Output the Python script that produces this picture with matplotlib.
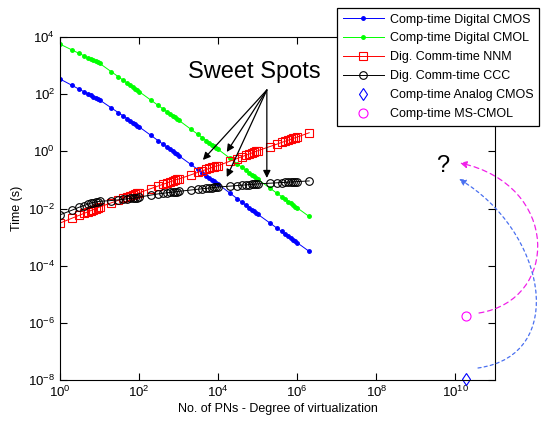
import matplotlib
matplotlib.use("Agg")
import matplotlib.pyplot as plt
from matplotlib.path import Path
from matplotlib.patches import FancyArrowPatch

plt.rcParams["font.family"] = ["Liberation Sans", "DejaVu Sans"]
plt.rcParams["mathtext.fontset"] = "custom"
plt.rcParams["mathtext.rm"] = "Liberation Sans"
plt.rcParams["mathtext.default"] = "regular"

# number of PNs (x) - 1..9 per decade up to 1e6, then 2e6
pns = [1, 2, 3, 4, 5, 6, 7, 8, 9,
       10, 20, 30, 40, 50, 60, 70, 80, 90,
       100, 200, 300, 400, 500, 600, 700, 800, 900,
       1e3, 2e3, 3e3, 4e3, 5e3, 6e3, 7e3, 8e3, 9e3,
       1e4, 2e4, 3e4, 4e4, 5e4, 6e4, 7e4, 8e4, 9e4,
       1e5, 2e5, 3e5, 4e5, 5e5, 6e5, 7e5, 8e5, 9e5,
       1e6, 2e6]

cmos = [339, 204, 151, 123, 105, 91, 81, 74, 68,
        63, 32.9, 22.5, 17.1, 13.9, 11.7, 10.1, 8.9, 8.0,
        7.2, 3.6, 2.39, 1.79, 1.43, 1.19, 1.02, 0.89, 0.79,
        0.71, 0.354, 0.236, 0.177, 0.142, 0.118, 0.101, 0.0885, 0.0787,
        0.0708, 0.0342, 0.0223, 0.0165, 0.0131, 0.0108, 0.00918, 0.00798, 0.00705,
        0.00631, 0.00316, 0.0021, 0.00158, 0.00126, 0.00105, 0.000902, 0.000789, 0.000702,
        0.000631, 0.000316]

cmol = [5623, 3532, 2692, 2223, 1914, 1694, 1528, 1396, 1291,
        1202, 605, 406, 305, 244, 204, 175, 153, 137,
        123, 61.5, 41, 30.8, 24.6, 20.5, 17.6, 15.4, 13.7,
        12.3, 6.07, 4.01, 2.99, 2.38, 1.98, 1.69, 1.48, 1.31,
        1.17, 0.568, 0.371, 0.274, 0.217, 0.179, 0.152, 0.132, 0.117,
        0.105, 0.0524, 0.0349, 0.0262, 0.0209, 0.0175, 0.0150, 0.0131, 0.0116,
        0.0105, 0.00525]

nnm = [0.00309, 0.00456, 0.00571, 0.00671, 0.0076, 0.00843, 0.00918, 0.0099, 0.01057,
       0.0112, 0.0159, 0.0194, 0.0224, 0.0251, 0.0275, 0.0297, 0.0318, 0.0337,
       0.0355, 0.0498, 0.0608, 0.070, 0.0782, 0.0853, 0.092, 0.0982, 0.104,
       0.107, 0.149, 0.182, 0.209, 0.232, 0.253, 0.273, 0.29, 0.308,
       0.316, 0.454, 0.56, 0.65, 0.73, 0.80, 0.87, 0.933, 0.99,
       1.05, 1.46, 1.77, 2.04, 2.27, 2.47, 2.67, 2.84, 3.01,
       3.16, 4.47]

ccc = [0.0060, 0.0087, 0.011, 0.0126, 0.0141, 0.0155, 0.0162, 0.017, 0.0174,
       0.0178, 0.019, 0.020, 0.0209, 0.0219, 0.0224, 0.0229, 0.0234, 0.024,
       0.0251, 0.0295, 0.0324, 0.0339, 0.0355, 0.0363, 0.0372, 0.038, 0.0389,
       0.0398, 0.0442, 0.047, 0.049, 0.0507, 0.0521, 0.0533, 0.0544, 0.0553,
       0.0562, 0.0607, 0.0635, 0.0655, 0.0671, 0.0685, 0.0697, 0.0706, 0.0716,
       0.0724, 0.0766, 0.0791, 0.0809, 0.0824, 0.0836, 0.0847, 0.0855, 0.0863,
       0.0871, 0.0923]

analog_x = [1.9e10]
analog_y = [1.05e-8]
mscmol_x = [1.9e10]
mscmol_y = [1.7e-6]

# sweet spot annotation: arrow origin and the four crossings it points at
sweet_origin = (1.7e5, 140)
sweet_targets = [(4.1e3, 0.5), (1.65e4, 0.95), (1.65e4, 0.126), (1.7e5, 0.117)]

xticks = [1e0, 1e2, 1e4, 1e6, 1e8, 1e10]
xticklabels = ["$10^{0}$", "$10^{2}$", "$10^{4}$", "$10^{6}$", "$10^{8}$", "$10^{10}$"]
yticks = [1e-8, 1e-6, 1e-4, 1e-2, 1e0, 1e2, 1e4]
yticklabels = ["$10^{-8}$", "$10^{-6}$", "$10^{-4}$", "$10^{-2}$", "$10^{0}$", "$10^{2}$", "$10^{4}$"]

fig = plt.figure(figsize=(5.42, 4.21), dpi=100)
ax = fig.add_axes([60 / 542, 41 / 421, 435 / 542, 343 / 421])

ax.loglog(pns, cmos, "b.-", lw=0.7, ms=5, label="Comp-time Digital CMOS")
ax.loglog(pns, cmol, ".-", color="#00ff00", lw=0.7, ms=5, label="Comp-time Digital CMOL")
ax.loglog(pns, nnm, "s-", color="red", mfc="none", lw=0.7, ms=5.2, mew=0.8,
          label="Dig. Comm-time NNM")
ax.loglog(pns, ccc, "o-", color="black", mfc="none", lw=0.7, ms=5.5, mew=0.8,
          label="Dig. Comm-time CCC")
ax.loglog(analog_x, analog_y, "d", color="blue", mfc="none", ms=6, mew=0.8,
          clip_on=False, label="Comp-time Analog CMOS")
ax.loglog(mscmol_x, mscmol_y, "o", color="magenta", mfc="none", ms=6.5, mew=0.8,
          clip_on=False, label="Comp-time MS-CMOL")

ax.set_xlim(1, 1e11)
ax.set_ylim(1e-8, 1e4)
ax.set_xticks(xticks)
ax.set_xticklabels(xticklabels)
ax.set_yticks(yticks)
ax.set_yticklabels(yticklabels)
ax.minorticks_off()
ax.tick_params(direction="in", length=5, top=True, right=True, labelsize=9.5)
ax.set_xlabel("No. of PNs - Degree of virtualization", fontsize=9, labelpad=2)
ax.set_ylabel("Time (s)", fontsize=9)
ax.yaxis.set_label_coords(-0.085, 0.5)

# Sweet spots annotation
ax.text(8.4e4, 600, "Sweet Spots", fontsize=17, ha="center", va="center")
for target in sweet_targets:
    ax.annotate("", xy=target, xytext=sweet_origin,
                arrowprops=dict(arrowstyle="-|>", color="black", lw=0.9,
                                mutation_scale=11, shrinkA=0, shrinkB=0))

# "?" and curved arrows (figure pixel positions)
fig.text(443 / 542, 1 - 166 / 421, "?", fontsize=17, ha="center", va="center")


def px(x, y):
    return (x / 542, 1 - y / 421)


curves = [
    ([(479, 313), (560, 300), (560, 185), (460, 163)], "#f020e8", (0, (4, 3))),
    ([(478, 368), (570, 355), (545, 230), (459, 179)], "#4a70f0", (0, (2.5, 2.5))),
]
for pts, col, ls in curves:
    path = Path([px(*p) for p in pts],
                [Path.MOVETO, Path.CURVE4, Path.CURVE4, Path.CURVE4])
    arr = FancyArrowPatch(path=path, arrowstyle="-|>", mutation_scale=10,
                          color=col, lw=0.9, linestyle=ls,
                          transform=fig.transFigure)
    fig.add_artist(arr)

leg = fig.legend(loc="upper left", bbox_to_anchor=(337 / 542, 1 - 8 / 421),
                 fontsize=9, frameon=True, fancybox=False, edgecolor="black",
                 framealpha=1, handlelength=3.3, handletextpad=0.5,
                 labelspacing=0.55, borderpad=0.45, borderaxespad=0)
leg.get_frame().set_linewidth(0.9)

fig.savefig("out.png", dpi=100)
